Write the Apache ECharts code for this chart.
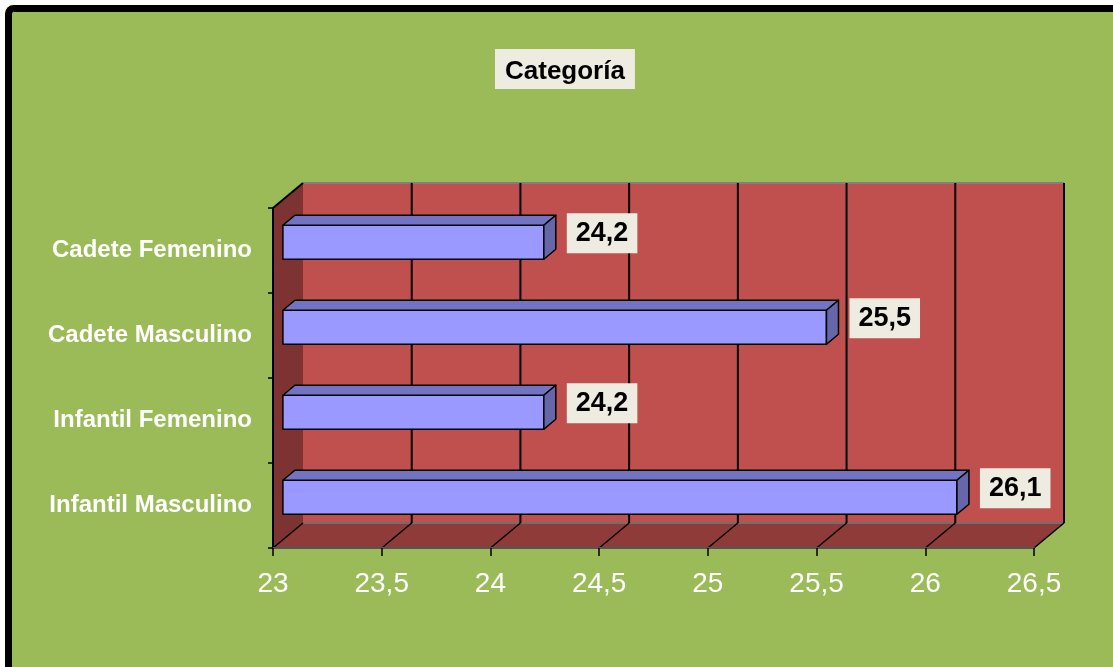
<!DOCTYPE html>
<html>
<head>
<meta charset="utf-8">
<script src="https://cdn.jsdelivr.net/npm/echarts@6/dist/echarts.min.js"></script>
<style>
html,body{margin:0;padding:0;background:#fff;}
#chart{width:1113px;height:667px;}
</style>
</head>
<body>
<div id="chart"></div>
<script>
const categories = ['Infantil Masculino', 'Infantil Femenino', 'Cadete Masculino', 'Cadete Femenino'];
const values = [26.1, 24.2, 25.5, 24.2];
const xTicks = [23, 23.5, 24, 24.5, 25, 25.5, 26, 26.5];
const titleText = 'Categoría';

const X_MIN = 23, X_MAX = 26.5;
const DX = 30, DY = -25;      // depth offset of the 3D box
const F1 = 0.33, F2 = 0.73;   // bar depth (front / back) as fraction of depth
const FONT = '"Liberation Sans", Arial, sans-serif';

const fmt = v => String(v).replace('.', ',');

const chart = echarts.init(document.getElementById('chart'));

const barData = values.map((v, i) => [v, i]);
const tickData = xTicks.map(t => [t, 0]);

const option = {
  backgroundColor: '#ffffff',
  animation: false,
  graphic: [{
    type: 'rect',
    z: -10,
    shape: { x: 8.5, y: 8.5, width: 1200, height: 800, r: 5 },
    style: { fill: '#9BBB59', stroke: '#000', lineWidth: 7 }
  }],
  title: {
    text: titleText,
    left: 495,
    top: 49,
    backgroundColor: '#EEECE1',
    padding: [10, 10, 4, 10],
    textStyle: { fontFamily: FONT, fontWeight: 'bold', fontSize: 26, color: '#000', lineHeight: 26 }
  },
  grid: { left: 273, right: 79, top: 208, bottom: 119, containLabel: false },
  xAxis: {
    type: 'value',
    min: X_MIN, max: X_MAX, interval: 0.5,
    z: 5,
    axisLine: { show: true, lineStyle: { color: '#555555', width: 2 } },
    axisTick: { show: true, length: 8, lineStyle: { color: '#000', width: 1.5 } },
    splitLine: { show: false },
    axisLabel: {
      margin: 22,
      color: '#ffffff',
      fontFamily: FONT,
      fontSize: 28,
      formatter: v => fmt(v)
    }
  },
  yAxis: {
    type: 'category',
    data: categories,
    z: 5,
    axisLine: { show: true, lineStyle: { color: '#000', width: 2 } },
    axisTick: { show: true, length: 5, lineStyle: { color: '#000', width: 1.5 } },
    axisLabel: {
      margin: 21,
      color: '#ffffff',
      fontFamily: FONT,
      fontWeight: 'bold',
      fontSize: 24
    }
  },
  series: [
    {
      // walls and floor
      type: 'custom',
      z: 1,
      silent: true,
      data: [[X_MIN, 0]],
      encode: { x: 0, y: 1 },
      renderItem: function (params, api) {
        const cs = params.coordSys;
        const L = cs.x, T = cs.y, R = cs.x + cs.width, B = cs.y + cs.height;
        return {
          type: 'group',
          children: [
            { type: 'polygon', shape: { points: [[L + DX, T + DY], [R + DX, T + DY], [R + DX, B + DY], [L + DX, B + DY]] },
              style: { fill: '#C0504D' } },
            { type: 'polygon', shape: { points: [[L, T], [L + DX, T + DY], [L + DX, B + DY], [L, B]] },
              style: { fill: '#7D3331' } },
            { type: 'polygon', shape: { points: [[L, B], [L + DX, B + DY], [R + DX, B + DY], [R, B]] },
              style: { fill: '#8F3B39' } },
            { type: 'line', shape: { x1: L + DX, y1: T + DY, x2: R + DX, y2: T + DY },
              style: { stroke: '#808080', lineWidth: 2 } },
            { type: 'line', shape: { x1: L + DX, y1: B + DY, x2: R + DX, y2: B + DY },
              style: { stroke: '#6f6f6f', lineWidth: 2 } },
            { type: 'line', shape: { x1: L, y1: T, x2: L + DX, y2: T + DY },
              style: { stroke: '#000', lineWidth: 2 } }
          ]
        };
      }
    },
    {
      // gridlines on back wall and floor
      type: 'custom',
      z: 2,
      silent: true,
      data: tickData,
      encode: { x: 0, y: 1 },
      renderItem: function (params, api) {
        const cs = params.coordSys;
        const T = cs.y, B = cs.y + cs.height;
        const t = api.value(0);
        const x = api.coord([t, 0])[0];
        const children = [
          { type: 'line', shape: { x1: x, y1: B, x2: x + DX, y2: B + DY },
            style: { stroke: '#000', lineWidth: 1.5 } }
        ];
        if (t > X_MIN) {
          children.push({ type: 'line', shape: { x1: x + DX, y1: T + DY, x2: x + DX, y2: B + DY },
            style: { stroke: '#000', lineWidth: 2 } });
        }
        return { type: 'group', children: children };
      }
    },
    {
      // 3D bars with value boxes
      type: 'custom',
      z: 3,
      data: barData,
      encode: { x: 0, y: 1 },
      renderItem: function (params, api) {
        const v = api.value(0);
        const ci = api.value(1);
        const start = api.coord([X_MIN, ci]);
        const end = api.coord([v, ci]);
        const bandH = api.size([0, 1])[1];
        const h = bandH * 0.4;
        const x0 = start[0] + DX * F1;
        const x1 = end[0] + DX * F1;
        const yc = start[1] + DY * F1;
        const y0 = yc - h / 2, y1 = yc + h / 2;
        const dX = DX * (F2 - F1), dY = DY * (F2 - F1);
        const border = { stroke: '#000', lineWidth: 1.5, lineJoin: 'round' };
        return {
          type: 'group',
          children: [
            { type: 'polygon', shape: { points: [[x0, y0], [x1, y0], [x1, y1], [x0, y1]] },
              style: Object.assign({ fill: '#9999FF' }, border) },
            { type: 'polygon', shape: { points: [[x0, y0], [x0 + dX, y0 + dY], [x1 + dX, y0 + dY], [x1, y0]] },
              style: Object.assign({ fill: '#7373C4' }, border) },
            { type: 'polygon', shape: { points: [[x1, y0], [x1 + dX, y0 + dY], [x1 + dX, y1 + dY], [x1, y1]] },
              style: Object.assign({ fill: '#6666AA' }, border) },
            { type: 'text', z2: 10,
              style: {
                text: fmt(v),
                x: x1 + dX + 11,
                y: yc - 9,
                align: 'left',
                verticalAlign: 'middle',
                font: 'bold 27px ' + FONT,
                fill: '#000',
                backgroundColor: '#EEECE1',
                padding: [7, 9, 6, 9]
              } }
          ]
        };
      }
    }
  ]
};

chart.setOption(option);
</script>
</body>
</html>
